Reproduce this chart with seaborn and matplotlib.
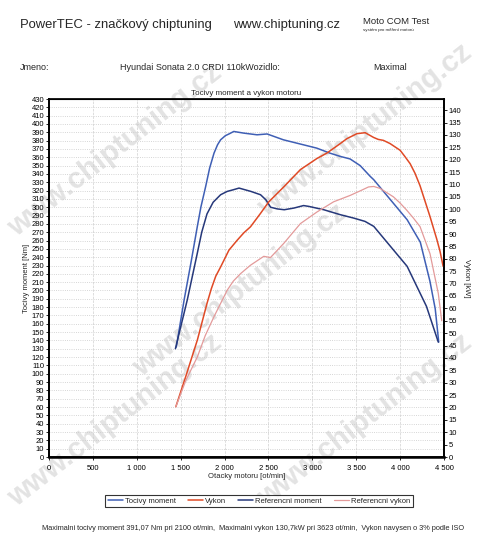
import numpy as np
import pandas as pd
import matplotlib
matplotlib.use("Agg")
import matplotlib.pyplot as plt
from matplotlib.ticker import FuncFormatter, MultipleLocator
import seaborn as sns

# values
rpm_moment = [1450, 1540, 1620, 1690, 1730, 1785, 1830, 1880, 1920, 1955, 2010, 2050, 2105, 2220, 2370,
              2485, 2670, 2860, 3050, 3200, 3320, 3430, 3545, 3660, 3700, 3890, 4080, 4230, 4340, 4400, 4440]
moment = [132, 189, 235, 277, 300, 325, 347, 365, 375, 381, 386, 388, 391, 389, 387,
          388, 381, 376, 371, 365, 361, 358, 350, 337, 333, 309, 285, 258, 211, 178, 138]

rpm_ref_moment = [1440, 1576, 1690, 1740, 1800, 1870, 1955, 2030, 2100, 2165, 2300, 2410, 2470, 2525, 2600,
                  2680, 2790, 2900, 2960, 3130, 3320, 3470, 3600, 3700, 3890, 4080, 4190, 4300, 4435]
ref_moment = [130, 189, 245, 270, 292, 306, 315, 319, 321, 323, 319, 315, 309, 300, 298,
              297, 299, 302, 301, 297, 291, 287, 283, 277, 253, 229, 205, 181, 138]

rpm_vykon = [1445, 1557, 1690, 1800, 1850, 1900, 1955, 2050, 2144, 2220, 2295, 2409, 2504, 2674, 2864,
             3053, 3167, 3318, 3394, 3508, 3602, 3697, 3750, 3810, 3886, 4000, 4050, 4114, 4170, 4227,
             4341, 4417, 4455, 4490]
vykon = [20.3, 32.4, 47.2, 62, 68, 73, 76.7, 83.5, 87.5, 90.5, 92.9, 98.3, 103, 109, 116,
         120.5, 122.7, 126.5, 128.5, 130.5, 130.9, 129, 128.2, 127.8, 126.5, 123.8, 121.5, 118.4, 114.5, 109.5,
         97, 88, 83, 77]

rpm_ref_vykon = [1445, 1560, 1690, 1780, 1879, 2030, 2100, 2182, 2295, 2447, 2523, 2674, 2864, 3053, 3242,
                 3432, 3550, 3640, 3700, 3773, 3924, 4000, 4076, 4150, 4227, 4341, 4435, 4474]
ref_vykon = [20.3, 31, 40.4, 49, 56.6, 67.3, 71, 74, 77.4, 81, 80.5, 86.2, 94.2, 98.9, 103,
             105.6, 107.5, 109, 109.2, 108.4, 105, 102.5, 99.6, 96.5, 93, 82, 66, 55]

sns.set_theme(style="white")
plt.rcParams["font.family"] = ["Liberation Sans", "DejaVu Sans"]

fig = plt.figure(figsize=(4.8, 5.42), dpi=100)
fig.patch.set_facecolor("white")

# watermark
for cx, cy in [(115, 150), (365, 130), (240, 290), (115, 420), (365, 420)]:
    fig.text(cx / 480, 1 - cy / 542, "www.chiptuning.cz", fontsize=21, fontweight="bold",
             color="#e3e3e3", rotation=38, ha="center", va="center", zorder=-5)

ax = fig.add_axes([49 / 480, 1 - 457 / 542, (444 - 49) / 480, (457 - 99) / 542])
ax.set_facecolor("none")
ax2 = ax.twinx()

c_mom = "#3f5fb5"
c_ref_mom = "#26387a"
c_vyk = "#e04a26"
c_ref_vyk = "#e39a9a"

sns.lineplot(x=rpm_moment, y=moment, ax=ax, color=c_mom, lw=1.1, label="Tocivy moment", legend=False)
sns.lineplot(x=rpm_ref_moment, y=ref_moment, ax=ax, color=c_ref_mom, lw=1.1, label="Referencni moment", legend=False)
sns.lineplot(x=rpm_vykon, y=vykon, ax=ax2, color=c_vyk, lw=1.1, label="Vykon", legend=False)
sns.lineplot(x=rpm_ref_vykon, y=ref_vykon, ax=ax2, color=c_ref_vyk, lw=0.9, label="Referencni vykon", legend=False)

ax.set_xlim(0, 4500)
ax.set_ylim(0, 430)
ax2.set_ylim(0, 144.5)
ax.yaxis.set_major_locator(MultipleLocator(10))
ax.xaxis.set_major_locator(MultipleLocator(500))
ax.xaxis.set_major_formatter(FuncFormatter(lambda v, p: f"{int(v):,}".replace(",", " ")))
ax2.set_yticks(np.arange(0, 141, 5))

ax.grid(axis="y", color="#c8c8c8", linestyle=":", linewidth=0.6)
ax.grid(axis="x", color="#d0d0d0", linestyle="--", linewidth=0.5)

for a in (ax, ax2):
    a.tick_params(labelsize=5.5, length=2.5, width=0.6, pad=1, colors="black", direction="out")
    for s in a.spines.values():
        s.set_color("black")
ax.tick_params(axis="x", pad=3)
ax.tick_params(left=True, bottom=True)
ax2.tick_params(right=True)
ax.spines["bottom"].set_linewidth(1.8)
ax.spines["left"].set_linewidth(1.2)
ax2.spines["right"].set_linewidth(1.2)
ax.spines["top"].set_linewidth(0.8)

ax.set_xlabel("Otacky motoru [ot/min]", fontsize=5.5, labelpad=1)
ax.set_ylabel("Tocivy moment [Nm]", fontsize=5.5, labelpad=1)
ax2.set_ylabel("Vykon [kW]", fontsize=5.5, rotation=270, labelpad=6)
ax.set_title("Tocivy moment a vykon motoru", fontsize=5.8, pad=3)

# header
fig.text(20 / 480, 1 - 25 / 542, "PowerTEC - značkový chiptuning", fontsize=9.4, va="center")
fig.text(233 / 480, 1 - 25 / 542, "www.chiptuning.cz", fontsize=9.4, va="center")
fig.text(363 / 480, 1 - 21 / 542, "Moto COM Test", fontsize=6.8, va="center")
fig.text(363 / 480, 1 - 30 / 542, "systém pro měření motorů", fontsize=3.2, va="center")
fig.text(20 / 480, 1 - 68 / 542, "Jmeno:", fontsize=6.5, va="center")
fig.text(120 / 480, 1 - 68 / 542, "Hyundai Sonata 2.0 CRDI 110kWozidlo:", fontsize=6.5, va="center")
fig.text(373 / 480, 1 - 68 / 542, "Maximal", fontsize=6.5, va="center")

h1, l1 = ax.get_legend_handles_labels()
h2, l2 = ax2.get_legend_handles_labels()
handles = [h1[0], h2[0], h1[1], h2[1]]
labels = [l1[0], l2[0], l1[1], l2[1]]
leg = fig.legend(handles, labels, loc="center", bbox_to_anchor=(259 / 480, 1 - 501 / 542), ncol=4,
                 fontsize=5.5, frameon=True, fancybox=False, edgecolor="black", handlelength=2.0,
                 columnspacing=1.5, borderpad=0.3, handletextpad=0.3)
leg.get_frame().set_linewidth(0.8)

fig.text(253 / 480, 1 - 529 / 542,
         "Maximalni tocivy moment 391,07 Nm pri 2100 ot/min,  Maximalni vykon 130,7kW pri 3623 ot/min,  Vykon navysen o 3% podle ISO",
         fontsize=5.3, ha="center", va="center")

fig.savefig("out.png", dpi=100, facecolor="white")
